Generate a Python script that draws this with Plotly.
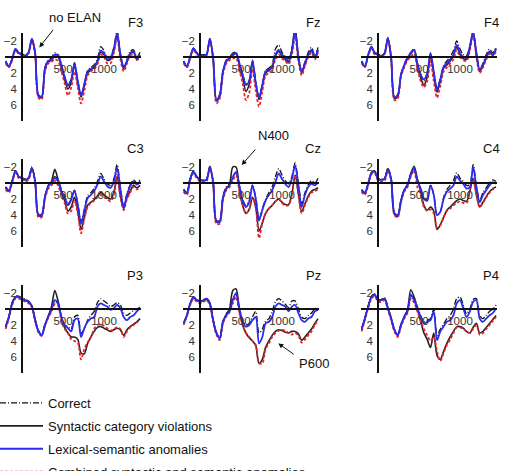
import plotly.graph_objects as go

TIME_MS = [-200, -160, -120, -80, -40, 0, 40, 80, 120, 160, 200, 240, 280, 320,
           360, 400, 440, 480, 520, 560, 600, 640, 680, 720, 760, 800, 840, 880,
           920, 960, 1000, 1040, 1080, 1120, 1160, 1200, 1240, 1280, 1320, 1360,
           1400, 1440]

CONDITIONS = ["Correct", "Syntactic category violations",
              "Lexical-semantic anomalies",
              "Combined syntactic and semantic anomalies"]

# ---- F3 ----
F3_correct = [0.5, 1.1, 0.2, -1.0, -0.6, -0.4, -0.2, -0.6, -2.3, -0.6, 4.7, 4.9, 1.3, 0.4, 0.1, -0.5, -0.3, 0.9, 2.4, 3.6, 2.9, 0.7, 2.9, 4.7, 3.3, 1.7, 1.3, 1.0, 0.2, -1.3, -0.8, 0.1, -0.1, -1.2, -3.3, -0.5, 1.2, 0.3, -0.7, -0.9, 0.0, -0.6]
F3_syntactic = [0.6, 1.2, 0.3, -0.9, -0.5, -0.3, -0.1, -0.5, -2.2, -0.5, 4.9, 5.1, 1.5, 0.6, 0.4, -0.1, 0.0, 1.2, 2.8, 4.0, 3.2, 1.0, 3.3, 5.0, 3.6, 2.0, 1.6, 1.3, 0.6, -0.6, -0.3, 0.4, 0.3, -0.8, -2.8, -0.1, 1.5, 0.6, -0.4, -0.6, 0.3, -0.2]
F3_lexical = [0.5, 1.2, 0.2, -1.0, -0.5, -0.3, -0.1, -0.6, -2.3, -0.6, 4.8, 5.0, 1.4, 0.5, 0.3, -0.3, -0.2, 1.0, 2.5, 3.5, 2.8, 0.8, 3.0, 4.8, 3.4, 1.8, 1.5, 1.2, 0.5, -0.8, -0.5, 0.3, 0.1, -1.0, -3.0, -0.3, 1.3, 0.5, -0.5, -0.7, 0.2, -0.3]
F3_combined = [0.8, 1.3, 0.4, -0.8, -0.4, -0.2, 0.0, -0.4, -2.0, -0.3, 5.1, 5.3, 1.8, 0.8, 0.6, 0.3, 0.5, 1.8, 3.3, 4.8, 3.8, 1.8, 3.8, 5.8, 4.2, 2.3, 1.8, 1.5, 0.9, -0.3, 0.0, 0.8, 0.8, -0.5, -2.5, 0.3, 1.8, 0.8, -0.2, -0.3, 0.4, -0.1]

# ---- Fz ----
Fz_correct = [0.5, 1.1, 0.0, -1.1, -0.6, -0.3, -0.3, -0.4, -2.3, 0.0, 5.3, 4.7, 1.7, 0.4, 0.0, -0.5, -0.6, 0.7, 2.1, 3.4, 2.9, 0.4, 3.1, 5.0, 3.4, 1.7, 1.4, 0.9, -1.0, -1.5, -0.6, -0.1, 0.2, -1.0, -3.3, -0.2, 1.7, 0.6, -0.6, -1.2, -0.2, -1.2]
Fz_syntactic = [0.6, 1.2, 0.1, -1.0, -0.5, -0.2, -0.1, -0.3, -2.2, 0.2, 5.5, 4.9, 1.9, 0.6, 0.2, -0.2, -0.4, 1.0, 2.6, 4.3, 3.4, 0.7, 3.4, 5.3, 3.7, 2.0, 1.7, 1.3, -0.1, -0.7, -0.1, 0.3, 0.7, -0.9, -3.7, 0.2, 2.0, 0.9, -0.2, -0.8, 0.1, -0.8]
Fz_lexical = [0.5, 1.2, 0.0, -1.1, -0.5, -0.2, -0.2, -0.3, -2.3, 0.1, 5.4, 4.8, 1.8, 0.5, 0.1, -0.3, -0.5, 0.8, 2.2, 3.5, 3.0, 0.5, 3.2, 5.1, 3.5, 1.8, 1.6, 1.2, -0.3, -0.9, -0.3, 0.1, 0.5, -0.7, -3.2, 0.0, 1.8, 0.8, -0.3, -0.9, 0.0, -0.9]
Fz_combined = [0.8, 1.3, 0.2, -0.9, -0.3, -0.1, 0.0, -0.2, -2.1, 0.3, 5.8, 5.2, 2.2, 0.8, 0.4, 0.2, 0.1, 1.6, 3.3, 5.4, 4.5, 1.5, 4.2, 6.2, 4.3, 2.3, 2.0, 1.6, 0.3, -0.3, 0.2, 0.5, 0.9, -0.3, -2.6, 0.5, 2.3, 1.1, 0.0, -0.5, 0.3, -0.6]

# ---- F4 ----
F4_correct = [0.5, 1.1, -0.3, -1.3, -0.6, -0.4, -0.2, -0.5, -2.4, -0.1, 4.9, 4.7, 2.1, 0.9, 0.0, -0.6, -1.0, 0.7, 2.1, 3.0, 2.2, -0.4, 1.9, 4.0, 2.7, 1.1, 0.5, 0.0, -0.8, -2.0, -1.0, -0.3, -0.2, -1.4, -3.2, -0.6, 1.5, 0.8, -0.3, -1.0, -0.5, -1.3]
F4_syntactic = [0.6, 1.2, -0.2, -1.2, -0.5, -0.3, -0.1, -0.4, -2.3, 0.1, 5.2, 5.0, 2.3, 1.1, 0.2, -0.4, -0.9, 1.0, 2.6, 3.5, 2.5, -0.2, 2.2, 4.4, 3.0, 1.4, 1.0, 0.5, -0.1, -1.3, -0.3, 0.2, 0.3, -1.1, -3.0, -0.3, 1.8, 1.1, 0.1, -0.6, -0.2, -1.0]
F4_lexical = [0.5, 1.2, -0.3, -1.3, -0.5, -0.3, -0.1, -0.5, -2.4, 0.0, 5.0, 4.8, 2.2, 1.0, 0.1, -0.5, -0.9, 0.8, 2.2, 2.8, 2.0, -0.5, 1.8, 4.1, 2.8, 1.2, 0.8, 0.3, -0.3, -1.5, -0.5, 0.0, 0.1, -1.3, -3.2, -0.5, 1.6, 1.0, 0.0, -0.7, -0.3, -1.1]
F4_combined = [0.8, 1.3, -0.1, -1.1, -0.3, -0.2, 0.0, -0.3, -2.2, 0.3, 5.4, 5.2, 2.5, 1.3, 0.4, 0.0, -0.4, 1.4, 3.0, 3.8, 3.0, 0.5, 3.0, 5.1, 3.6, 1.8, 1.3, 0.8, 0.3, -0.9, 0.0, 0.4, 0.5, -0.8, -2.8, 0.0, 2.0, 1.3, 0.3, -0.4, 0.0, -0.8]

# ---- C3 ----
C3_correct = [0.5, 0.9, -0.3, -1.5, -0.9, -0.7, -0.5, -0.7, -2.0, -0.3, 3.9, 3.9, 1.6, 0.3, -0.1, -0.8, -0.4, 0.8, 1.6, 2.6, 2.0, 0.9, 2.5, 4.8, 3.3, 1.6, 1.2, 0.7, -0.2, -1.2, -0.5, 0.1, 0.3, -0.5, -2.3, 0.5, 2.9, 1.3, 0.2, -0.4, 0.0, -0.4]
C3_syntactic = [0.5, 1.0, -0.2, -1.4, -0.8, -0.6, -0.4, -0.6, -1.9, -0.2, 4.1, 4.1, 1.8, 0.4, -0.2, -1.7, -0.4, 1.2, 2.2, 3.5, 3.0, 1.8, 3.5, 5.8, 4.3, 2.8, 2.4, 2.1, 1.6, 1.2, 1.5, 1.8, 2.0, 1.2, -0.8, 1.6, 3.2, 1.8, 1.0, 0.3, 0.6, 0.3]
C3_lexical = [0.6, 1.0, -0.2, -1.5, -0.8, -0.6, -0.4, -0.6, -1.9, -0.2, 4.0, 4.0, 1.7, 0.4, 0.0, -0.6, -0.2, 1.0, 1.7, 2.8, 2.1, 1.0, 2.7, 5.1, 3.5, 1.9, 1.5, 1.0, 0.2, -0.8, -0.2, 0.4, 0.6, -0.2, -1.9, 0.8, 3.1, 1.5, 0.4, -0.2, 0.2, -0.2]
C3_combined = [0.8, 1.2, 0.0, -1.3, -0.6, -0.4, -0.2, -0.4, -1.7, 0.0, 4.3, 4.3, 2.0, 0.7, 0.3, -0.3, 0.3, 1.5, 2.5, 3.8, 3.5, 2.2, 3.8, 6.3, 4.5, 3.0, 2.5, 2.2, 1.8, 1.5, 1.8, 2.0, 2.3, 1.5, -1.0, 1.8, 3.4, 2.0, 1.2, 0.5, 0.8, 0.5]

# ---- Cz ----
Cz_correct = [0.8, 1.2, -0.6, -1.5, -0.8, -0.5, -0.4, -0.5, -2.1, -0.2, 4.7, 4.7, 1.6, 0.5, 0.1, -0.9, -1.3, 0.2, 2.0, 2.8, 2.2, 0.2, 1.8, 4.6, 3.2, 2.0, 1.2, 0.5, -0.8, -1.8, -1.0, -0.3, 0.1, -0.8, -2.5, 0.0, 2.6, 1.2, 0.2, -0.3, 0.0, -0.6]
Cz_syntactic = [0.8, 1.2, -0.5, -1.4, -0.8, -0.4, -0.3, -0.4, -2.0, -0.1, 4.9, 4.9, 1.9, 0.7, 0.2, -2.0, -2.0, 0.8, 2.8, 3.8, 3.3, 1.8, 3.0, 6.0, 5.0, 3.8, 3.2, 2.8, 2.3, 2.0, 2.4, 2.7, 2.7, 1.4, -1.0, 1.3, 3.6, 2.6, 1.6, 1.0, 0.8, 0.6]
Cz_lexical = [0.9, 1.3, -0.5, -1.4, -0.8, -0.4, -0.3, -0.4, -2.0, -0.1, 4.8, 4.8, 1.8, 0.7, 0.3, -0.7, -1.4, 0.3, 2.2, 3.0, 2.4, 0.3, 2.0, 4.7, 3.4, 2.2, 1.5, 0.9, -0.1, -1.2, -0.5, 0.1, 0.5, -0.5, -2.2, 0.3, 3.0, 1.5, 0.5, 0.1, 0.3, -0.1]
Cz_combined = [1.1, 1.5, -0.3, -1.2, -0.6, -0.2, -0.1, -0.2, -1.8, 0.1, 5.1, 5.1, 2.1, 0.9, 0.5, -0.3, -1.0, 1.0, 2.7, 3.8, 3.3, 1.8, 3.0, 6.9, 5.0, 3.8, 3.2, 2.8, 2.3, 2.0, 2.5, 2.8, 2.8, 1.5, -1.0, 1.5, 3.8, 2.8, 1.8, 1.2, 1.0, 0.8]

# ---- C4 ----
C4_correct = [0.9, 1.2, 0.0, -1.3, -1.5, -0.6, -0.5, -0.6, -1.8, -0.6, 3.7, 4.0, 2.1, 0.8, 0.2, -1.1, -1.9, -0.4, 0.6, 1.9, 2.1, 0.2, 1.4, 4.0, 3.6, 1.8, 0.8, 0.3, -0.3, -1.3, -0.6, -0.2, 0.3, 0.2, -2.3, 0.3, 2.2, 1.2, 0.6, 0.0, -0.4, -0.2]
C4_syntactic = [0.8, 1.2, 0.1, -1.3, -1.5, -0.5, -0.4, -0.5, -1.8, -0.5, 3.9, 4.2, 2.3, 0.9, 0.2, -1.2, -2.1, -0.5, 1.0, 2.8, 3.4, 3.0, 3.5, 5.8, 5.2, 4.3, 3.4, 3.0, 2.6, 2.2, 2.0, 2.2, 2.3, 1.0, -0.6, 1.4, 3.0, 2.4, 1.7, 1.1, 0.7, 0.5]
C4_lexical = [0.9, 1.3, 0.1, -1.2, -1.4, -0.5, -0.4, -0.5, -1.7, -0.5, 3.8, 4.1, 2.2, 0.9, 0.3, -1.0, -1.8, -0.3, 0.7, 2.0, 2.2, 0.3, 1.5, 4.0, 3.6, 2.0, 1.1, 0.7, 0.3, -0.8, -0.3, 0.1, 0.7, 0.5, -2.0, 0.5, 2.4, 1.5, 0.9, 0.3, -0.1, 0.1]
C4_combined = [1.1, 1.5, 0.3, -1.1, -1.2, -0.3, -0.2, -0.3, -1.5, -0.3, 4.0, 4.3, 2.4, 1.1, 0.5, -0.8, -1.6, 0.5, 1.5, 3.0, 3.5, 3.3, 3.8, 5.6, 5.3, 4.3, 3.5, 3.2, 2.8, 2.5, 2.3, 2.5, 2.5, 1.0, -0.5, 1.5, 3.0, 2.5, 1.8, 1.2, 0.8, 0.6]

# ---- P3 ----
P3_correct = [2.2, 0.9, -0.8, -1.6, -1.6, -1.4, -1.2, -1.0, -0.4, 1.3, 2.7, 3.2, 1.9, 0.9, 0.0, -1.0, -0.6, 1.0, 2.0, 2.2, 2.5, 1.0, 0.8, 3.0, 2.5, 1.4, 0.8, 0.3, -0.8, -1.3, -1.0, -0.7, -0.3, -0.5, -0.8, -0.5, 0.5, 0.8, 0.5, 0.2, 0.0, -0.2]
P3_syntactic = [2.2, 1.0, -0.7, -1.5, -1.5, -1.3, -1.1, -0.9, -0.4, 1.3, 2.7, 3.3, 2.0, 0.9, -0.3, -2.3, -1.0, 1.0, 2.3, 3.0, 3.5, 3.5, 3.8, 5.5, 5.6, 4.3, 3.5, 2.8, 2.3, 2.2, 2.4, 2.6, 2.8, 2.6, 2.4, 2.6, 3.3, 2.6, 2.2, 1.9, 1.6, 1.2]
P3_lexical = [2.3, 1.0, -0.7, -1.5, -1.5, -1.3, -1.1, -0.9, -0.3, 1.4, 2.8, 3.3, 2.0, 1.0, 0.1, -1.1, -0.7, 1.0, 2.0, 2.4, 2.8, 1.4, 1.2, 3.5, 2.4, 1.6, 1.2, 1.0, -0.3, -0.7, -0.5, -0.3, 0.1, -0.1, -0.5, -0.1, 1.0, 1.4, 1.0, 0.8, 0.3, -0.1]
P3_combined = [2.5, 1.2, -0.5, -1.3, -1.3, -1.1, -0.9, -0.7, -0.2, 1.5, 2.9, 3.4, 2.1, 1.1, 0.3, -0.6, -0.4, 1.5, 2.5, 3.0, 3.8, 4.0, 4.2, 6.3, 5.0, 4.2, 3.5, 2.5, 2.0, 1.9, 2.1, 2.4, 2.7, 2.5, 2.3, 2.5, 3.5, 2.8, 2.3, 2.0, 1.7, 1.3]

# ---- Pz ----
Pz_correct = [1.8, 0.7, -0.7, -1.5, -1.2, -1.0, -1.1, -1.3, -0.8, 1.3, 2.9, 3.6, 1.5, 0.6, 0.1, -1.3, -1.8, -0.2, 1.4, 2.0, 1.8, 1.0, 0.3, 3.0, 2.5, 1.5, 1.2, 0.3, -0.9, -1.3, -1.0, -0.6, -0.2, -1.0, -1.0, 0.0, 1.0, 1.2, 0.8, 0.5, 0.0, -0.2]
Pz_syntactic = [1.8, 0.8, -0.6, -1.4, -1.1, -0.9, -1.0, -1.2, -0.7, 1.4, 3.0, 3.6, 1.6, 0.7, 0.0, -2.3, -2.5, 0.3, 2.0, 3.0, 3.6, 4.0, 4.6, 6.8, 6.3, 4.8, 4.0, 3.3, 2.8, 2.6, 2.7, 2.9, 3.0, 2.8, 2.8, 3.1, 3.9, 3.5, 3.0, 2.5, 1.8, 1.2]
Pz_lexical = [1.8, 0.8, -0.7, -1.5, -1.1, -0.9, -1.1, -1.3, -0.7, 1.4, 3.0, 3.7, 1.6, 0.8, 0.3, -1.1, -2.0, -0.1, 1.6, 2.2, 2.0, 1.4, 1.0, 4.3, 3.5, 1.8, 1.6, 1.0, -0.3, -0.7, -0.5, -0.3, 0.3, -0.3, -0.5, 0.5, 1.4, 1.6, 1.2, 1.0, 0.3, 0.1]
Pz_combined = [2.0, 0.9, -0.5, -1.3, -0.9, -0.7, -0.9, -1.1, -0.5, 1.6, 3.2, 3.9, 1.8, 0.9, 0.4, -0.7, -1.5, 0.5, 2.0, 3.0, 3.5, 4.0, 4.5, 6.8, 6.8, 5.0, 4.3, 3.5, 3.0, 2.7, 2.6, 2.7, 3.0, 3.2, 3.0, 3.3, 4.2, 3.8, 3.3, 2.8, 2.0, 1.4]

# ---- P4 ----
P4_correct = [2.5, 1.1, -0.4, -1.6, -1.9, -1.2, -1.2, -1.4, -0.2, 1.1, 2.5, 3.2, 1.9, 0.9, 0.2, -1.6, -1.4, -0.3, 0.8, 1.6, 1.4, 1.2, 0.0, 3.3, 2.5, 1.9, 1.2, 0.8, 0.0, -1.3, -1.5, -0.5, 0.6, 0.0, -1.2, -1.3, 0.8, 1.2, 0.8, 0.3, 0.0, -0.5]
P4_syntactic = [2.5, 1.2, -0.3, -1.5, -1.8, -1.1, -1.1, -1.3, -0.2, 1.1, 2.6, 3.3, 2.0, 1.0, 0.1, -2.4, -1.5, 0.0, 1.5, 3.0, 3.8, 4.8, 3.0, 5.8, 6.3, 5.3, 4.3, 3.5, 2.8, 2.2, 2.2, 2.4, 2.8, 3.0, 2.3, 1.8, 3.0, 2.8, 2.3, 1.8, 1.3, 0.8]
P4_lexical = [2.6, 1.2, -0.3, -1.5, -1.8, -1.1, -1.1, -1.3, -0.1, 1.2, 2.6, 3.3, 2.0, 1.0, 0.3, -1.8, -1.1, -0.1, 1.0, 1.8, 1.6, 1.4, 0.3, 3.9, 2.8, 2.2, 1.6, 1.4, 0.8, -0.7, -1.1, -0.1, 1.0, 0.3, -0.9, -1.1, 1.2, 1.6, 1.2, 0.8, 0.5, -0.1]
P4_combined = [2.8, 1.4, -0.1, -1.3, -1.6, -0.9, -0.9, -1.1, 0.1, 1.4, 2.8, 3.5, 2.2, 1.2, 0.5, -1.3, -0.8, 0.3, 1.5, 2.5, 3.3, 4.0, 3.5, 5.3, 6.5, 5.5, 4.5, 3.8, 3.0, 2.3, 2.3, 2.5, 2.8, 3.0, 2.5, 2.0, 3.2, 3.0, 2.5, 2.0, 1.5, 1.0]

ELECTRODES = ["F3", "Fz", "F4", "C3", "Cz", "C4", "P3", "Pz", "P4"]
DATA = {
    "F3": [F3_correct, F3_syntactic, F3_lexical, F3_combined],
    "Fz": [Fz_correct, Fz_syntactic, Fz_lexical, Fz_combined],
    "F4": [F4_correct, F4_syntactic, F4_lexical, F4_combined],
    "C3": [C3_correct, C3_syntactic, C3_lexical, C3_combined],
    "Cz": [Cz_correct, Cz_syntactic, Cz_lexical, Cz_combined],
    "C4": [C4_correct, C4_syntactic, C4_lexical, C4_combined],
    "P3": [P3_correct, P3_syntactic, P3_lexical, P3_combined],
    "Pz": [Pz_correct, Pz_syntactic, Pz_lexical, Pz_combined],
    "P4": [P4_correct, P4_syntactic, P4_lexical, P4_combined],
}

X_TICKS = [500, 1000]
Y_TICKS = [-2, 2, 4, 6]

W, H = 505, 471
FONT = "Liberation Sans, Arial, sans-serif"

STYLES = [
    dict(color="#111111", dash="6px,2px,1px,2px", width=1.3),   # correct
    dict(color="#222222", dash="solid", width=1.6),             # syntactic
    dict(color="#2b2bf0", dash="solid", width=1.8),             # lexical
    dict(color="#e8232a", dash="3px,2px", width=1.8),           # combined
]
DRAW_ORDER = [0, 1, 3, 2]

# geometry (pixels)
PX_PER_MS = 0.082
X_RANGE = [-210, 1450]
Y_RANGE = [8, -3]
PX_PER_UV = 8.0

fig = go.Figure()
layout = dict(width=W, height=H, margin=dict(l=0, r=0, t=0, b=0, autoexpand=False),
              paper_bgcolor="white", plot_bgcolor="white",
              font=dict(family=FONT, size=12, color="#222222"))

annotations = []
for k, name in enumerate(ELECTRODES):
    r, c = divmod(k, 3)
    idx = k + 1
    sfx = "" if idx == 1 else str(idx)
    x0 = 22 + 178 * c
    z0 = 57 + 126 * r
    xd = [(x0 + X_RANGE[0] * PX_PER_MS) / W, (x0 + X_RANGE[1] * PX_PER_MS) / W]
    yd = [1 - (z0 + Y_RANGE[0] * PX_PER_UV) / H, 1 - (z0 + Y_RANGE[1] * PX_PER_UV) / H]
    layout["xaxis" + sfx] = dict(
        domain=xd, range=X_RANGE, anchor="free", position=1 - z0 / H,
        showline=True, linecolor="#111111", linewidth=1.5, showgrid=False,
        zeroline=False, tickvals=X_TICKS, ticks="", ticklabelstandoff=1,
        tickfont=dict(size=11.5, color="#333333"), fixedrange=True)
    layout["yaxis" + sfx] = dict(
        domain=yd, range=Y_RANGE, anchor="free", position=x0 / W,
        showline=True, linecolor="#111111", linewidth=1.5, showgrid=False,
        zeroline=False, tickvals=Y_TICKS, ticks="", ticklabelstandoff=2,
        tickfont=dict(size=11.5, color="#333333"), fixedrange=True)
    series = DATA[name]
    for ci in DRAW_ORDER:
        st = STYLES[ci]
        fig.add_trace(go.Scatter(
            x=TIME_MS, y=series[ci], mode="lines",
            line=dict(color=st["color"], dash=st["dash"], width=st["width"],
                      shape="spline", smoothing=0.8),
            name=CONDITIONS[ci], legendgroup=CONDITIONS[ci], legendrank=ci + 1,
            showlegend=(k == 0), xaxis="x" + sfx, yaxis="y" + sfx,
            hoverinfo="skip"))
    annotations.append(dict(text=name, x=(x0 + 113) / W, y=1 - (z0 - 34) / H,
                            xref="paper", yref="paper", showarrow=False,
                            xanchor="center", yanchor="middle",
                            font=dict(size=13, color="#111111")))

annotations += [
    dict(text="no ELAN", x=75 / W, y=1 - 18 / H, xref="paper", yref="paper",
         xanchor="center", yanchor="middle",
         showarrow=False, font=dict(size=13, color="#111111")),
    dict(text="", x=211, y=-1.2, xref="x", yref="y", showarrow=True,
         ax=15, ay=-19, arrowhead=2, arrowsize=1, arrowwidth=1, arrowcolor="#111111"),
    dict(text="N400", x=273 / W, y=1 - 136 / H, xref="paper", yref="paper",
         xanchor="center", yanchor="middle",
         showarrow=False, font=dict(size=13, color="#111111")),
    dict(text="", x=508, y=-2.25, xref="x5", yref="y5", showarrow=True,
         ax=15, ay=-17, arrowhead=2, arrowsize=1, arrowwidth=1, arrowcolor="#111111"),
    dict(text="P600", x=314 / W, y=1 - 363 / H, xref="paper", yref="paper",
         xanchor="center", yanchor="middle",
         showarrow=False, font=dict(size=13, color="#111111")),
    dict(text="", x=955, y=4.3, xref="x8", yref="y8", showarrow=True,
         ax=17, ay=12, arrowhead=2, arrowsize=1, arrowwidth=1, arrowcolor="#111111"),
]
layout["annotations"] = annotations
layout["legend"] = dict(x=-5 / W, xanchor="left", y=1 - 388 / H, yanchor="top",
                        font=dict(size=13, color="#111111"), itemwidth=43,
                        tracegroupgap=3, bgcolor="rgba(0,0,0,0)",
                        traceorder="grouped")
layout["showlegend"] = True
fig.update_layout(**layout)
fig.write_html("out.html")
